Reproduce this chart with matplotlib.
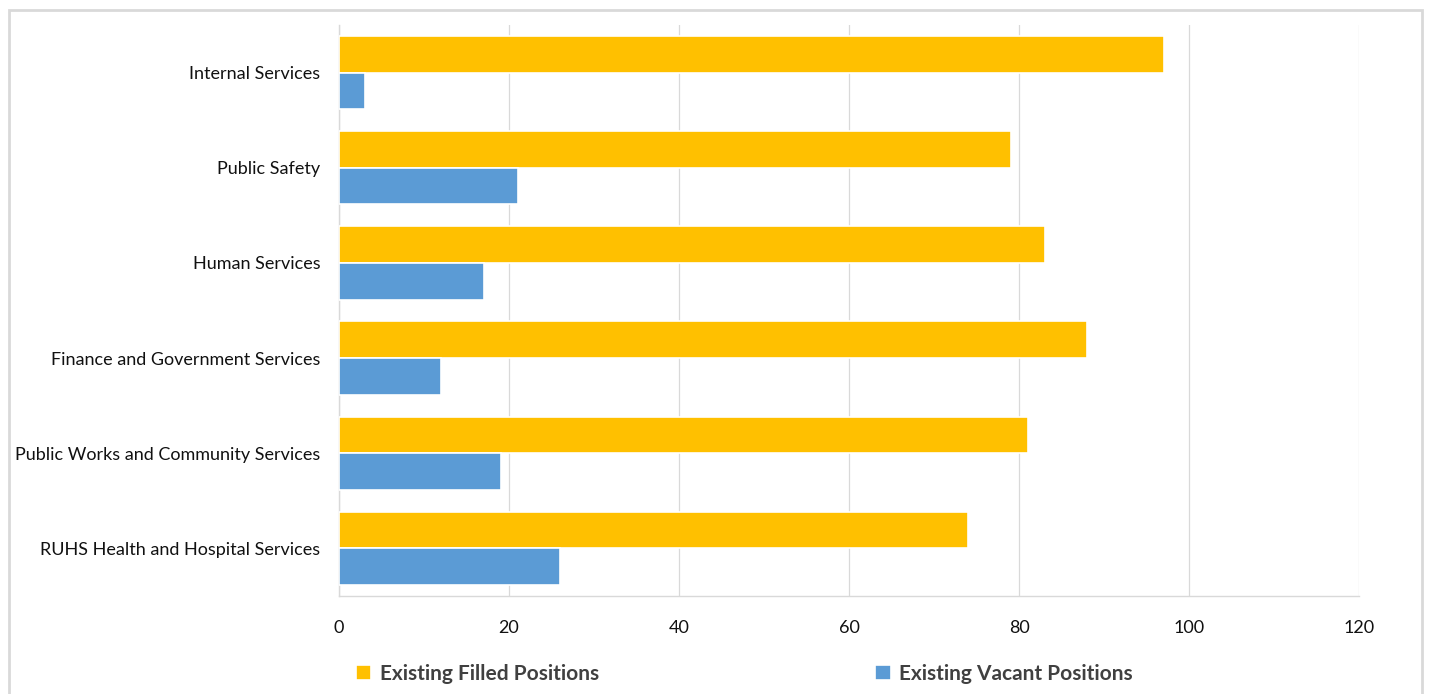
import matplotlib.pyplot as plt
import numpy as np
from matplotlib.patches import Rectangle

plt.rcParams['font.family'] = ['Lato', 'DejaVu Sans']

# data, top to bottom as drawn
categories = ['Internal Services', 'Public Safety', 'Human Services',
              'Finance and Government Services',
              'Public Works and Community Services',
              'RUHS Health and Hospital Services']
filled = [97, 79, 83, 88, 81, 74]
vacant = [3, 21, 17, 12, 19, 26]
series_names = ['Existing Filled Positions', 'Existing Vacant Positions']
x_ticks = [0, 20, 40, 60, 80, 100, 120]

YELLOW = '#FFC000'
BLUE = '#5B9BD5'
GRID = '#D9D9D9'

fig = plt.figure(figsize=(14.29, 6.94), dpi=100)
ax = fig.add_axes([339/1429, 98/694, 1020/1429, 571/694])

y = np.arange(len(categories))
h = 0.385
ax.barh(y - h/2, filled, height=h, color=YELLOW, edgecolor='white', linewidth=1.2,
        label=series_names[0], zorder=3)
ax.barh(y + h/2, vacant, height=h, color=BLUE, edgecolor='white', linewidth=1.2,
        label=series_names[1], zorder=3)

ax.set_ylim(len(categories) - 0.5, -0.5)
ax.set_xlim(0, 120)
ax.set_xticks(x_ticks)
ax.set_yticks(y)
ax.set_yticklabels(categories)
ax.tick_params(axis='both', length=0, labelsize=13, colors='#111111')
ax.tick_params(axis='x', pad=17)
ax.tick_params(axis='y', pad=13.5)
ax.grid(axis='x', color=GRID, linewidth=0.9, zorder=0)
for s in ['top', 'right']:
    ax.spines[s].set_visible(False)
ax.spines['left'].set_color(GRID)
ax.spines['bottom'].set_color(GRID)
ax.spines['left'].set_linewidth(1.0)
ax.spines['bottom'].set_linewidth(1.0)

leg = fig.legend(loc='center left', bbox_to_anchor=(337/1429, 1 - 674/694), ncol=2,
                 frameon=False, handlelength=0.75, handleheight=0.75, handletextpad=0.4,
                 columnspacing=13.25,
                 prop={'size': 15, 'weight': 'bold'})
for t in leg.get_texts():
    t.set_color('#404040')

# outer chart border
fig.patches.append(Rectangle((9/1429, -0.05), 1413/1429, 1.05 - 10/694,
                             transform=fig.transFigure, fill=False,
                             edgecolor=GRID, linewidth=2))

fig.savefig('out.png', dpi=100)
